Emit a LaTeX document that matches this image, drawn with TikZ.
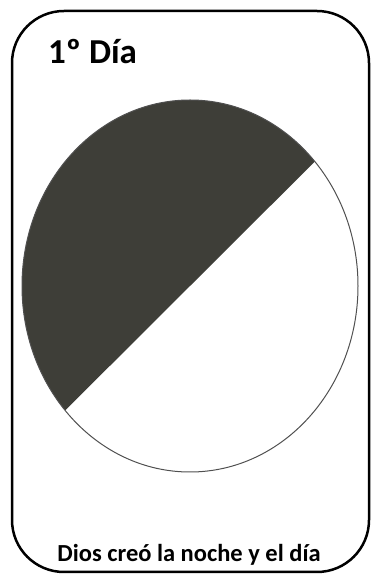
\documentclass[tikz,border=0pt]{standalone}
\usepackage{fontspec}
\setmainfont{Carlito}
\tikzset{
    card/.style={
        draw, line width=2.5pt, rounded corners=52pt
    },
    night/.style={
        fill={rgb,255:red,62;green,62;blue,56}
    },
    disc/.style={
        draw={rgb,255:red,80;green,80;blue,80}, line width=1pt
    },
    title/.style={
        anchor=base west, inner sep=0pt, font=\bfseries\fontsize{35}{35}\selectfont
    },
    caption/.style={
        anchor=base, inner sep=0pt, font=\bfseries\fontsize{24.5}{24.5}\selectfont
    }
}

\begin{document}
\begin{tikzpicture}[x=1pt, y=1pt]
        \useasboundingbox (0,0) rectangle (371,576);
        %\draw[help lines, step=50] (0,0) grid (371,576);

        \draw[card] (12,4) rectangle (369,565);

        \coordinate (centre) at (190,290);

        % night half, then the outline
        \fill[night] (centre) ++(42:168 and 186)
                arc[start angle=42, end angle=222, x radius=168, y radius=186] -- cycle;
        \draw[disc] (centre) ellipse[x radius=168, y radius=186];

        \node[title] (dia) at (48,512) {1º Día};
        \node[caption] (texto) at (189,15) {Dios creó la noche y el día};
    \end{tikzpicture}
\end{document}
